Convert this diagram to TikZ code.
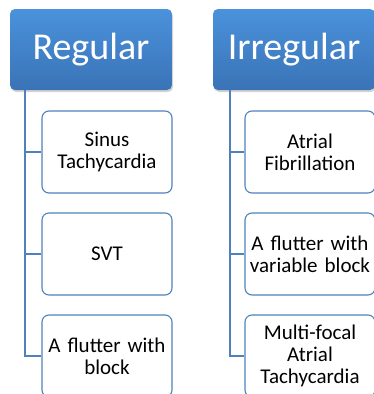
\documentclass[tikz,border=0pt]{standalone}
\usepackage{fontspec}
\setmainfont{Carlito}
\usepackage{xcolor}
\usetikzlibrary{shadows}
\definecolor{hdtop}{HTML}{4A92DC}
\definecolor{hdbot}{HTML}{3A73B6}
\definecolor{lnblue}{HTML}{4F81BD}

\begin{document}
\begin{tikzpicture}[x=1pt,y=1pt,
  header/.style={rounded corners=5pt,top color=hdtop,bottom color=hdbot,
    minimum width=162pt,minimum height=81pt,inner sep=0pt,
    text=white,font=\fontsize{38}{40}\selectfont,
    drop shadow={shadow xshift=1pt,shadow yshift=-2pt,opacity=0.35}},
  item/.style={draw=lnblue,line width=1.1pt,rounded corners=7pt,fill=white,
    minimum width=130pt,minimum height=82pt,inner sep=0pt,
    text width=128pt,align=center,font=\fontsize{21}{22}\selectfont},
  conn/.style={draw=lnblue,line width=1.6pt}]
  \clip (0,0) rectangle (374,-394);
  % column headers
  \node[header] (reg) at (91,-49.5) {Regular};
  \node[header] (irr) at (294,-49.5) {Irregular};
  % regular rhythms
  \node[item] (r1) at (107,-152) {Sinus\\Tachycardia};
  \node[item] (r2) at (107,-254) {SVT};
  \node[item] (r3) at (107,-356) {A flutter with\\block};
  % irregular rhythms
  \node[item] (i1) at (310,-152) {Atrial\\Fibrillation};
  \node[item] (i2) at (310,-254) {A flutter with\\variable block};
  \node[item] (i3) at (310,-356) {Multi-focal\\Atrial\\Tachycardia};
  % tree lines
  \foreach \k in {1,2,3}{
    \draw[conn] ([xshift=15pt]reg.south west) |- (r\k.west);
    \draw[conn] ([xshift=17pt]irr.south west) |- (i\k.west);
  }
\end{tikzpicture}
\end{document}
